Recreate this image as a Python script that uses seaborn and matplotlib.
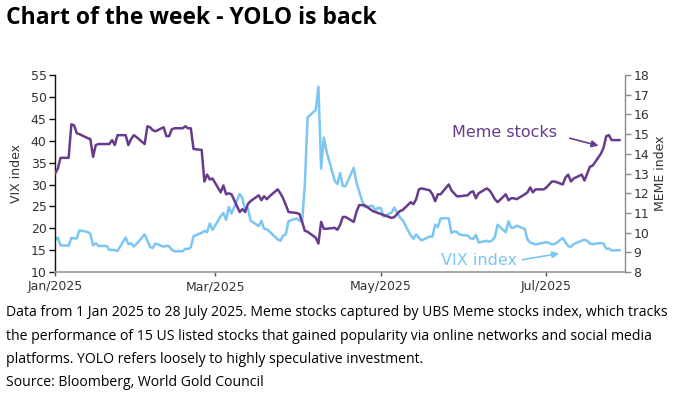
import pandas as pd
import numpy as np
import matplotlib
matplotlib.use("Agg")
import matplotlib.pyplot as plt
import matplotlib.dates as mdates
import seaborn as sns

#### data: weekdays 1 Jan 2025 - 28 Jul 2025 (holidays carry the prior close)
vix_jan = [17.35, 17.93, 16.13, 16.04, 17.82, 17.70, 17.70, 19.54, 19.19, 18.71, 16.12, 16.60,
           15.97, 15.97, 15.06, 15.10, 15.02, 14.85, 17.90, 16.41, 16.56, 15.84, 16.43]
vix_feb = [18.62, 17.21, 15.77, 15.50, 16.54, 15.81, 16.02, 15.89, 15.10, 14.77, 14.77, 15.35,
           15.27, 15.66, 18.21, 18.98, 19.43, 19.10, 21.13, 19.63]
vix_mar = [22.78, 23.51, 21.93, 24.87, 23.37, 27.86, 26.92, 24.23, 24.66, 21.77, 20.51, 21.70,
           19.90, 19.80, 19.28, 17.48, 17.15, 18.33, 18.69, 21.65, 22.28]
vix_apr = [21.77, 21.51, 30.02, 45.31, 46.98, 52.33, 33.62, 40.72, 37.56, 30.89, 30.12, 32.64,
           29.65, 29.65, 33.82, 30.57, 28.45, 26.47, 24.84, 25.15, 24.17, 24.70]
vix_may = [24.60, 22.68, 23.64, 24.76, 23.55, 22.48, 21.90, 18.39, 17.61, 18.62, 17.83, 17.24,
           18.14, 18.09, 20.87, 20.28, 22.29, 22.29, 18.96, 19.31, 19.18, 18.57]
vix_jun = [18.36, 17.69, 17.61, 18.48, 16.77, 17.16, 16.95, 17.26, 18.02, 20.82, 19.11, 21.60,
           20.14, 20.14, 20.62, 19.83, 17.48, 16.76, 16.59, 16.32, 16.73]
vix_jul = [16.83, 16.64, 16.38, 16.38, 17.79, 16.81, 15.94, 15.78, 16.40, 17.20, 17.38, 17.16,
           16.52, 16.41, 16.65, 16.50, 15.37, 15.39, 14.93, 15.03]

meme_jan = [13.0, 13.25, 13.8, 13.8, 15.5, 15.45, 15.05, 15.0, 14.8, 14.75, 13.85, 14.45,
            14.5, 14.5, 14.5, 14.7, 14.45, 14.95, 14.95, 14.45, 14.75, 14.95, 14.85]
meme_feb = [14.5, 15.4, 15.35, 15.2, 15.15, 15.35, 14.9, 14.9, 15.25, 15.3, 15.3, 15.4,
            15.3, 15.3, 14.25, 14.2, 12.6, 12.95, 12.7, 12.75]
meme_mar = [12.05, 12.4, 11.95, 12.0, 11.95, 11.05, 11.2, 11.05, 11.45, 11.6, 11.9, 11.65,
            11.85, 11.7, 11.85, 12.2, 12.0, 11.75, 11.4, 11.05, 11.0]
meme_apr = [10.95, 10.55, 10.1, 10.05, 9.75, 9.45, 10.55, 10.2, 10.2, 10.25, 10.15, 10.4,
            10.8, 10.8, 10.55, 11.05, 11.4, 11.4, 11.4, 11.1, 11.05, 11.0]
meme_may = [10.95, 10.9, 10.75, 10.8, 10.95, 11.1, 11.15, 11.55, 11.45, 11.7, 12.2, 12.25,
            12.15, 11.95, 11.6, 11.95, 11.95, 12.45, 12.15, 12.0, 11.85, 11.85]
meme_jun = [11.9, 12.05, 12.1, 11.75, 12.0, 12.25, 12.15, 11.95, 11.7, 11.55, 11.95, 11.65,
            11.75, 11.75, 11.7, 11.95, 12.05, 12.3, 12.05, 12.2, 12.2]
meme_jul = [12.3, 12.45, 12.6, 12.6, 12.45, 12.8, 12.95, 12.6, 12.75, 12.95, 12.65, 13.0,
            13.35, 13.4, 14.0, 14.3, 14.9, 14.95, 14.7, 14.7]

dates = pd.bdate_range("2025-01-01", "2025-07-28")
vix = vix_jan + vix_feb + vix_mar + vix_apr + vix_may + vix_jun + vix_jul
meme = meme_jan + meme_feb + meme_mar + meme_apr + meme_may + meme_jun + meme_jul
df = pd.DataFrame({"date": dates, "VIX": vix, "MEME": meme})

month_ticks = pd.to_datetime(["2025-01-01", "2025-03-01", "2025-05-01", "2025-07-01"])

purple = "#673C8C"
blue = "#7CC6F2"
grey = "#8c8c8c"
txt = "#333333"

sns.set_style("white")
plt.rcParams["font.family"] = ["DejaVu Sans"]

fig = plt.figure(figsize=(6.97, 3.95), dpi=100)
ax = fig.add_axes([0.079, 0.311, 0.818, 0.499])
ax2 = ax.twinx()

sns.lineplot(data=df, x="date", y="VIX", ax=ax, color=blue, lw=1.8)
sns.lineplot(data=df, x="date", y="MEME", ax=ax2, color=purple, lw=1.8)

ax.set_xlim(pd.Timestamp("2025-01-01"), pd.Timestamp("2025-07-30"))
ax.set_ylim(10, 55)
ax.set_yticks(np.arange(10, 56, 5))
ax2.set_ylim(8, 18)
ax2.set_yticks(np.arange(8, 19, 1))
ax.set_xticks(month_ticks)
ax.xaxis.set_major_formatter(mdates.DateFormatter("%b/%Y"))

for s in ["top"]:
    ax.spines[s].set_visible(False)
    ax2.spines[s].set_visible(False)
ax.spines["right"].set_visible(False)
ax2.spines["left"].set_visible(False)
ax2.spines["bottom"].set_visible(False)
ax.spines["left"].set_color("#111111")
ax.spines["left"].set_linewidth(1.0)
ax.spines["bottom"].set_color("#a0a0a0")
ax.spines["bottom"].set_linewidth(1.3)
ax2.spines["right"].set_color(grey)
ax2.spines["right"].set_linewidth(1.0)

ax.tick_params(axis="y", direction="out", length=4, width=1, color="#111111",
               labelsize=9, labelcolor=txt, pad=2, left=True)
ax.tick_params(axis="x", direction="out", length=3, width=1, color="#555555",
               labelsize=9, labelcolor=txt, pad=3, bottom=True)
ax2.tick_params(axis="y", direction="out", length=4, width=1, color=grey,
                labelsize=9, labelcolor=txt, pad=2, right=True)

ax.set_xlabel("")
ax.set_ylabel("VIX index", fontsize=9, color=txt)
ax.yaxis.set_label_coords(-0.057, 0.5)
ax2.set_ylabel("MEME index", fontsize=9, color=txt, rotation=90)
ax2.yaxis.set_label_coords(1.05, 0.5)

#### annotations
ax2.text(0.789, 0.711, "Meme stocks", transform=ax2.transAxes, color=purple,
         fontsize=11.5, ha="center", va="center")
ax2.annotate("", xy=(0.958, 0.638), xytext=(0.898, 0.683), xycoords="axes fraction",
             arrowprops=dict(arrowstyle="-|>", color=purple, lw=1.2, mutation_scale=10))
ax2.text(0.744, 0.061, "VIX index", transform=ax2.transAxes, color=blue,
         fontsize=11.5, ha="center", va="center")
ax2.annotate("", xy=(0.889, 0.097), xytext=(0.815, 0.061), xycoords="axes fraction",
             arrowprops=dict(arrowstyle="-|>", color=blue, lw=1.2, mutation_scale=10))

#### title and footnote
fig.text(0.008, 0.955, "Chart of the week - YOLO is back", fontsize=16.5, fontweight="bold",
         family="Open Sans", color="black", va="center", ha="left")
notes = [
    "Data from 1 Jan 2025 to 28 July 2025. Meme stocks captured by UBS Meme stocks index, which tracks",
    "the performance of 15 US listed stocks that gained popularity via online networks and social media",
    "platforms. YOLO refers loosely to highly speculative investment.",
    "Source: Bloomberg, World Gold Council",
]
for i, line in enumerate(notes):
    fig.text(0.008, 1 - (313 + 23.3 * i) / 395, line, fontsize=10.1, family="Open Sans",
             color="black", va="center", ha="left")

fig.savefig("out.png", dpi=100)
